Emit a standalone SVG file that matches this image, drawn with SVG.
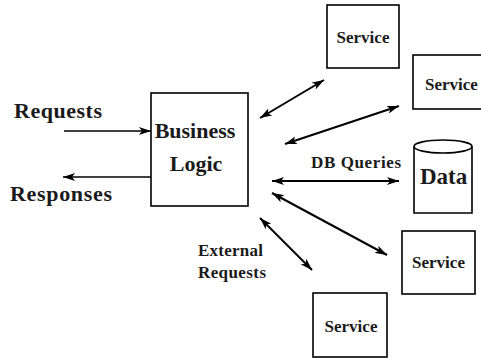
<svg xmlns="http://www.w3.org/2000/svg" width="481" height="358" viewBox="0 0 481 358">
<style>
.box{fill:#fff;stroke:#000;stroke-width:1.6}
.t{font-family:"Liberation Serif","Times New Roman",serif;font-weight:bold;fill:#1a1a1a}
.big{font-size:22px}
.mid{font-size:17px}
.edge{stroke:#000;stroke-width:2;fill:none;marker-end:url(#ah);marker-start:url(#ah)}
.one{stroke:#000;stroke-width:1.6;fill:none;marker-end:url(#ah)}
</style>
<defs>
<marker id="ah" viewBox="0 0 12 8" refX="12" refY="4" markerWidth="12" markerHeight="8" markerUnits="userSpaceOnUse" orient="auto-start-reverse">
<path d="M0,0 L12,4 L0,8 L3,4 z" fill="#000"/>
</marker>
</defs>
<rect width="481" height="358" fill="#fff"/>
<g id="connectors">
<line class="one" x1="64" y1="131" x2="151" y2="131"/>
<line class="one" x1="151" y1="177" x2="63" y2="177"/>
<line class="edge" x1="260" y1="118" x2="324" y2="80"/>
<line class="edge" x1="285" y1="144" x2="399" y2="106"/>
<line class="edge" x1="272" y1="181" x2="399" y2="181"/>
<line class="edge" x1="272" y1="193" x2="387" y2="255"/>
<line class="edge" x1="260" y1="218" x2="312" y2="270"/>
</g>
<g id="labels">
<text class="t big" x="14" y="118" textLength="88">Requests</text>
<text class="t big" x="10" y="201" textLength="102">Responses</text>
<text class="t mid" x="311" y="168" textLength="90">DB Queries</text>
<text class="t mid" x="198" y="256" textLength="65">External</text>
<text class="t mid" x="198" y="278" textLength="68">Requests</text>
</g>
<g id="business-logic">
<rect class="box" x="151" y="93" width="97" height="113"/>
<text class="t big" x="195" y="138" text-anchor="middle">Business</text>
<text class="t big" x="196" y="171" text-anchor="middle">Logic</text>
</g>
<g id="service1">
<rect class="box" x="327" y="5" width="72" height="63"/>
<text class="t mid" x="363" y="43" text-anchor="middle">Service</text>
</g>
<g id="service2">
<rect class="box" x="413" y="55" width="72" height="54"/>
<text class="t mid" x="425" y="90">Service</text>
</g>
<g id="data">
<path class="box" d="M414,146.5 L414,213 L472,213 L472,146.5"/>
<ellipse class="box" cx="443" cy="146.5" rx="29" ry="6.5"/>
<text class="t" style="font-size:23px" x="420" y="184">Data</text>
</g>
<g id="service3">
<rect class="box" x="402" y="231" width="73" height="63"/>
<text class="t mid" x="438.5" y="268" text-anchor="middle">Service</text>
</g>
<g id="service4">
<rect class="box" x="313" y="293" width="74" height="64"/>
<text class="t mid" x="351" y="332" text-anchor="middle">Service</text>
</g>
</svg>
